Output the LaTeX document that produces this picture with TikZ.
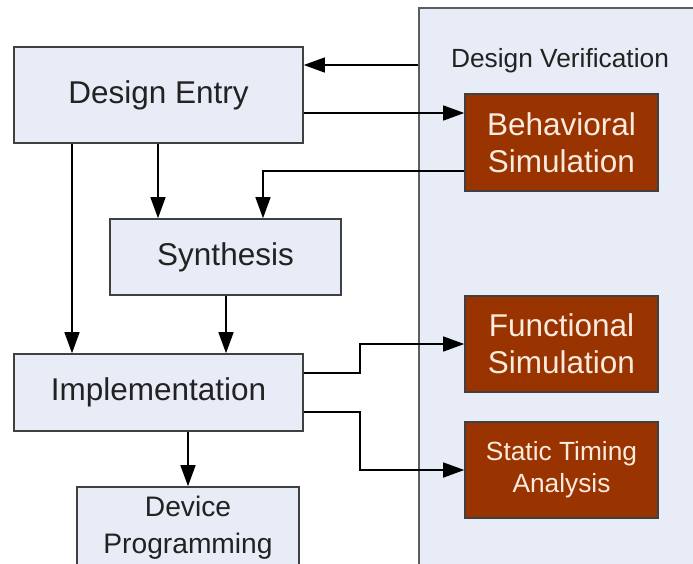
\documentclass[tikz,border=0pt]{standalone}
\usepackage{fontspec}
\setmainfont{Liberation Sans}
\usetikzlibrary{arrows.meta}
\definecolor{boxfill}{HTML}{E8ECF6}
\definecolor{redfill}{HTML}{993300}
\definecolor{edgecol}{HTML}{404040}
\definecolor{redtext}{HTML}{FBEBDF}
\definecolor{txt}{HTML}{222222}
\begin{document}
\begin{tikzpicture}[x=1pt,y=-1pt,
  bluebox/.style={draw=edgecol, line width=1.6pt, fill=boxfill, align=center, inner sep=0pt,
    text=txt, font=\fontsize{31.5}{37}\selectfont},
  redbox/.style={draw=edgecol, line width=1.6pt, fill=redfill, align=center, inner sep=0pt,
    text=redtext, font=\fontsize{31.5}{37}\selectfont, minimum width=193pt, minimum height=96pt},
  panel/.style={draw=edgecol!85, line width=1.6pt, fill=boxfill, inner sep=0pt},
  arr/.style={draw=black, line width=1.4pt, -{Triangle[length=21pt,width=15pt]}}]
\useasboundingbox (0,0) rectangle (693,563);
\clip (0,0) rectangle (693,563);
\fill[white] (0,0) rectangle (693,563);
% verification panel
\node[panel, anchor=north west, minimum width=300pt, minimum height=600pt] (ver) at (418,7) {};
\node[text=txt, font=\fontsize{26.3}{31}\selectfont, inner sep=0pt] (vlabel) at (560,61) {Design Verification};
% left column
\node[bluebox, minimum width=289pt, minimum height=96pt] (de) at (158.5,95) {Design Entry};
\node[bluebox, minimum width=231pt, minimum height=76pt] (syn) at (225.5,257) {Synthesis};
\node[bluebox, minimum width=289pt, minimum height=77pt] (imp) at (158.5,392.5) {Implementation};
\node[bluebox, minimum width=222pt, minimum height=82pt, font=\fontsize{28.2}{37}\selectfont] (dev) at (188,528) {Device\\Programming};
% right column
\node[redbox, minimum height=97pt] (beh) at (561.5,142.5) {Behavioral\\Simulation};
\node[redbox] (fun) at (561.5,344) {Functional\\Simulation};
\node[redbox, font=\fontsize{26.3}{32}\selectfont] (sta) at (561.5,470) {Static Timing\\Analysis};
% connectors
\draw[arr] (ver.west |- 0,65) -- (de.east |- 0,65);
\draw[arr] (de.east |- 0,113) -- (beh.west |- 0,113);
\draw[arr] (beh.west |- 0,171) -| (263,0 |- syn.north);
\draw[arr] (158,0 |- de.south) -- (158,0 |- syn.north);
\draw[arr] (72,0 |- de.south) -- (72,0 |- imp.north);
\draw[arr] (226,0 |- syn.south) -- (226,0 |- imp.north);
\draw[arr] (188,0 |- imp.south) -- (dev.north);
\draw[arr] (imp.east |- 0,373) -- (360,373) |- (fun.west);
\draw[arr] (imp.east |- 0,412) -- (360,412) |- (sta.west);
\end{tikzpicture}
\end{document}
